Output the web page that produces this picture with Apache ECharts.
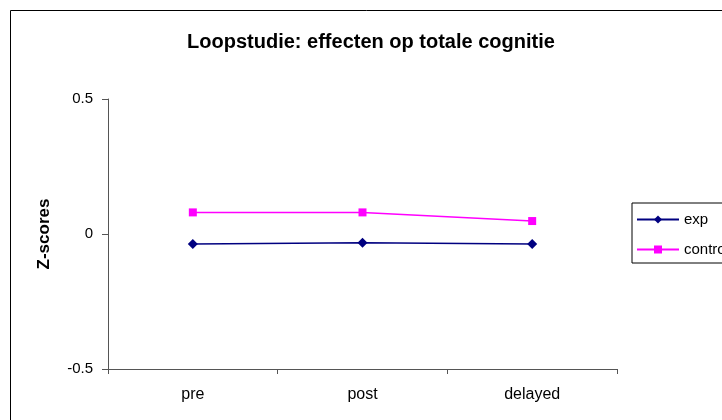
<!DOCTYPE html>
<html><head><meta charset="utf-8">
<script src="https://cdn.jsdelivr.net/npm/echarts@6/dist/echarts.min.js"></script>
<style>html,body{margin:0;padding:0;background:#fff}#c{width:722px;height:420px}</style>
</head><body><div id="c"></div>
<script>
const categories = ['pre', 'post', 'delayed'];
const expValues = [-0.037, -0.032, -0.037];
const controlValues = [0.08, 0.08, 0.048];
const yTicks = [-0.5, 0, 0.5];
const seriesNames = ['exp', 'control'];

const chart = echarts.init(document.getElementById('c'), null, {renderer: 'canvas'});
const font = 'Liberation Sans, Arial, sans-serif';
chart.setOption({
  animation: false,
  backgroundColor: '#fff',
  textStyle: {fontFamily: font},
  title: {
    text: 'Loopstudie: effecten op totale cognitie',
    left: 366, top: 27, textAlign: 'center',
    textStyle: {fontFamily: font, fontSize: 20, fontWeight: 'bold', color: '#000'}
  },
  graphic: [{
    type: 'rect', silent: true,
    shape: {x: 10.5, y: 10.5, width: 800, height: 500},
    style: {fill: 'none', stroke: '#000', lineWidth: 1}
  }],
  legend: {
    orient: 'vertical', left: 632, top: 203,
    data: seriesNames,
    borderColor: '#000', borderWidth: 1, borderRadius: 0,
    padding: [9, 8, 6, 4], itemGap: 15, itemWidth: 42, itemHeight: 10,
    textStyle: {fontFamily: font, fontSize: 15, color: '#000'}
  },
  grid: {left: 108, right: 105, top: 99, bottom: 51, containLabel: false},
  xAxis: {
    type: 'category', data: categories, boundaryGap: true,
    axisLine: {onZero: false, lineStyle: {color: '#555', width: 1}},
    axisTick: {show: true, length: 5, lineStyle: {color: '#555'}},
    axisLabel: {color: '#000', fontSize: 16, fontFamily: font, margin: 18}
  },
  yAxis: {
    type: 'value', min: yTicks[0], max: yTicks[yTicks.length - 1], interval: 0.5,
    name: 'Z-scores', nameLocation: 'middle', nameGap: 55, nameRotate: 90,
    nameTextStyle: {fontFamily: font, fontSize: 17, fontWeight: 'bold', color: '#000'},
    axisLine: {show: true, lineStyle: {color: '#555', width: 1}},
    axisTick: {show: true, length: 6, lineStyle: {color: '#555'}},
    splitLine: {show: false},
    axisLabel: {color: '#000', fontSize: 15, fontFamily: font, margin: 15,
      formatter: v => (v === 0 ? '0' : String(v))}
  },
  series: [
    {name: seriesNames[0], type: 'line', data: expValues,
     symbol: 'diamond', symbolSize: 10, color: '#000080',
     lineStyle: {color: '#000080', width: 1.5}, itemStyle: {color: '#000080'}},
    {name: seriesNames[1], type: 'line', data: controlValues,
     symbol: 'rect', symbolSize: 8, color: '#ff00ff',
     lineStyle: {color: '#ff00ff', width: 1.5}, itemStyle: {color: '#ff00ff'}}
  ]
});
</script></body></html>
